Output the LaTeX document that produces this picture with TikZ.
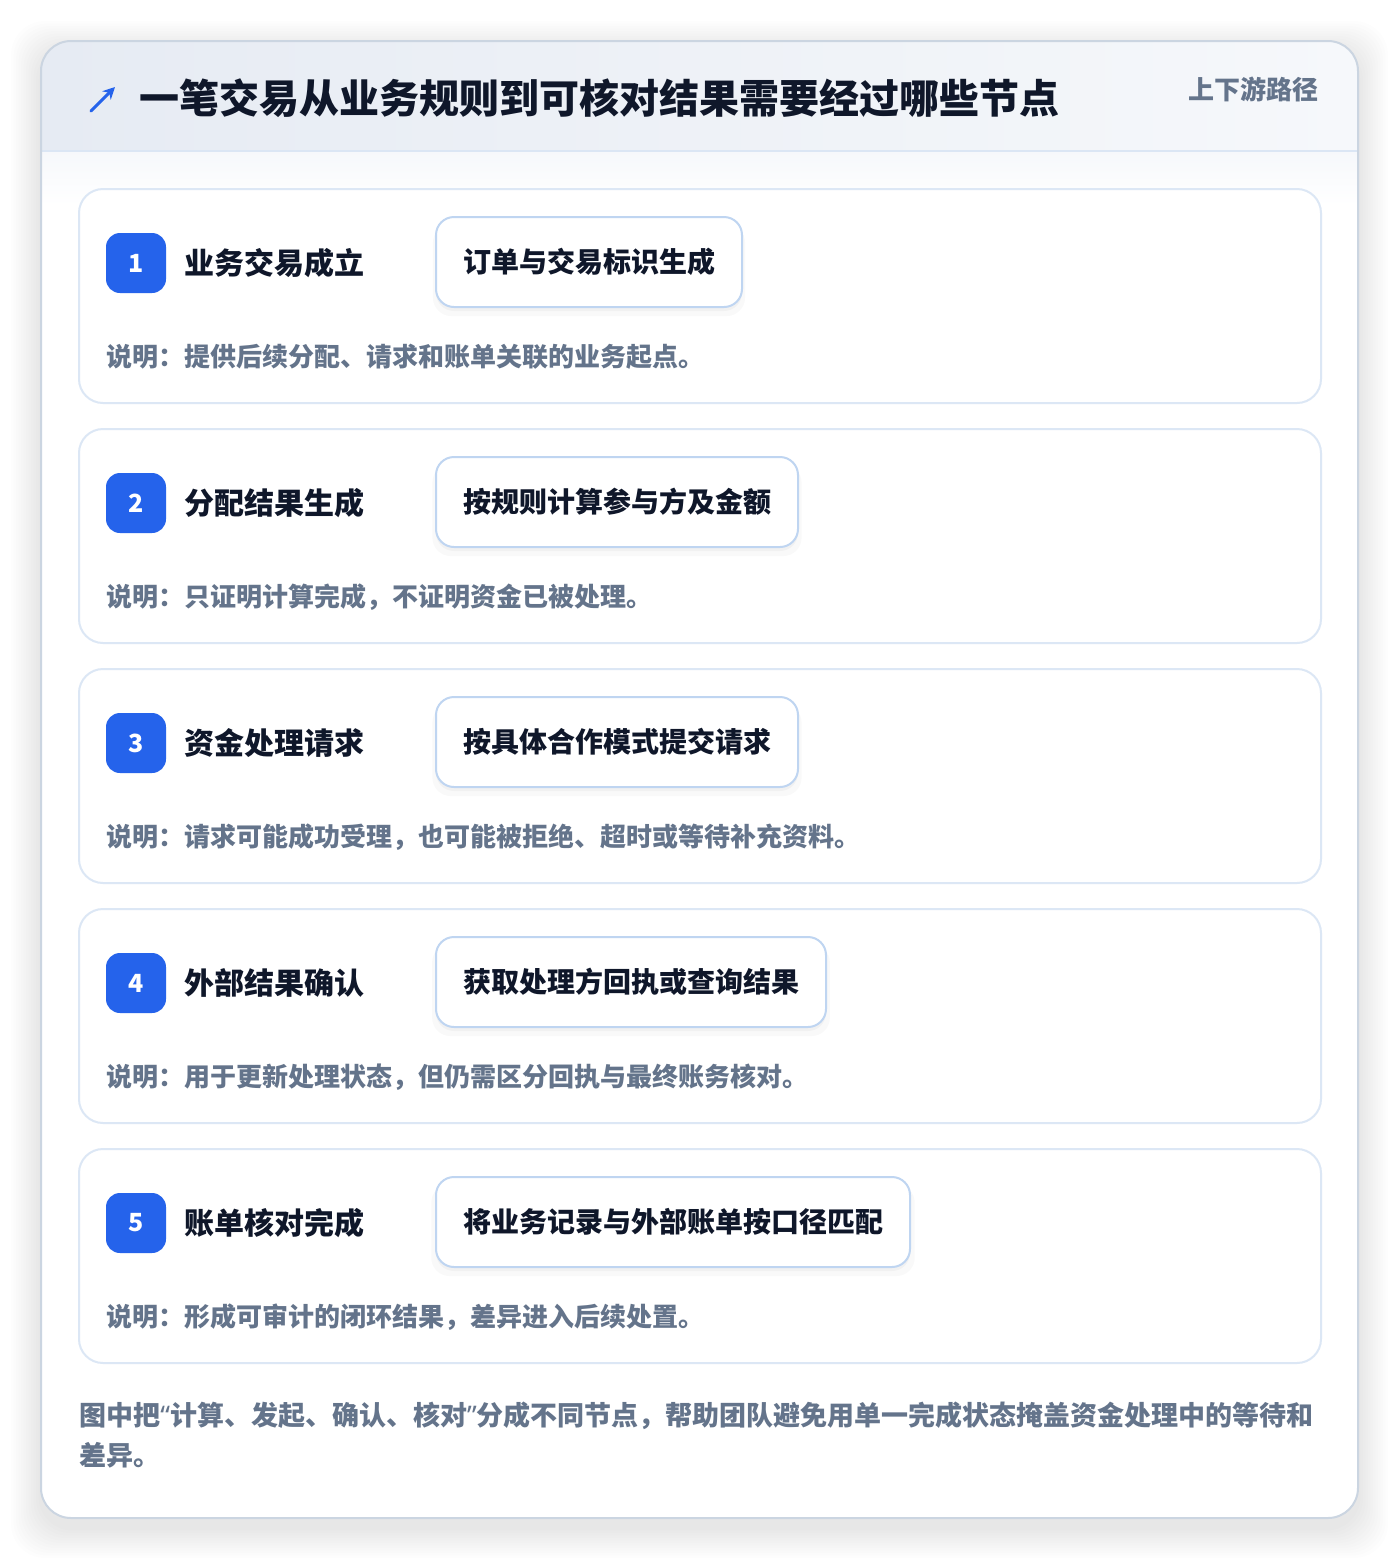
\documentclass[tikz,border=0pt]{standalone}
\usepackage{fontspec}
\setmainfont{Noto Sans CJK SC}
\newfontfamily\latinq{Noto Sans}
\usetikzlibrary{shadows,arrows.meta}
\definecolor{ink}{HTML}{0F172A}
\definecolor{muted}{HTML}{64748B}
\definecolor{accent}{HTML}{2563EB}
\definecolor{cardline}{HTML}{DCE7F5}
\definecolor{boxline}{HTML}{BFD5F1}
\definecolor{outerline}{HTML}{CBD5E1}
\definecolor{headL}{HTML}{E6EBF3}
\definecolor{headR}{HTML}{F6F8FB}
\definecolor{headline}{HTML}{DBE6F4}
\tikzset{
  card/.style={draw=cardline, line width=1pt, fill=white, rounded corners=12pt},
  badge/.style={fill=accent, rounded corners=7pt, minimum size=30pt, inner sep=0pt,
    text=white, font=\fontsize{12.5}{14}\selectfont\bfseries},
  steptitle/.style={inner sep=0pt, text=ink, font=\fontsize{15}{18}\selectfont\bfseries},
  stepbox/.style={draw=boxline, line width=1pt, fill=white, rounded corners=9pt,
    minimum height=45pt, inner xsep=13.5pt, inner ysep=0pt, text=ink,
    font=\fontsize{14}{17}\selectfont\bfseries,
    general shadow={shadow xshift=0pt, shadow yshift=-4pt, shadow scale=1.02, fill=black, opacity=0.025},
    general shadow={shadow xshift=0pt, shadow yshift=-2pt, fill=black, opacity=0.03}},
  desc/.style={inner sep=0pt, text=muted, font=\fontsize{13}{16}\selectfont\bfseries},
}
\begin{document}
\begin{tikzpicture}[x=0.5pt,y=-0.5pt]
\useasboundingbox (0,0) rectangle (1400,1560);
\fill[white] (0,0) rectangle (1400,1560);
% outer card soft shadow
\foreach \r in {1,...,12}{
  \fill[black, opacity=0.008, rounded corners=17pt]
    ({41-2.5*\r},{41-2.5*\r+10}) rectangle ({1358+2.5*\r},{1518+2.5*\r+10});
}
\fill[white, rounded corners=15pt] (41,41) rectangle (1358,1518);
\begin{scope}
  \clip[rounded corners=15pt] (41,41) rectangle (1358,1518);
  \fill[left color=headL, right color=headR] (41,41) rectangle (1358,151);
  \fill[top color=headR, bottom color=white] (41,151) rectangle (1358,205);
  \draw[headline, line width=1pt] (41,151) -- (1358,151);
\end{scope}
\draw[outerline, line width=1pt, rounded corners=15pt] (41,41) rectangle (1358,1518);
% header
\coordinate (arrowA) at (91,111);
\coordinate (arrowB) at (115,87);
\draw[accent, line width=1.5pt, line cap=round, -{Stealth[length=6pt,width=6pt]}] (arrowA) -- (arrowB);
\node[inner sep=0pt, anchor=west, text=ink, font=\fontsize{20}{24}\selectfont\bfseries] (title) at (139,98)
  {一笔交易从业务规则到可核对结果需要经过哪些节点};
\node[inner sep=0pt, anchor=east, text=muted, font=\fontsize{13}{16}\selectfont\bfseries] (tag) at (1319,89)
  {上下游路径};
% steps
\foreach \n/\t/\b/\d [count=\k from 0] in {
  1/业务交易成立/订单与交易标识生成/说明：提供后续分配、请求和账单关联的业务起点。,
  2/分配结果生成/按规则计算参与方及金额/说明：只证明计算完成，不证明资金已被处理。,
  3/资金处理请求/按具体合作模式提交请求/说明：请求可能成功受理，也可能被拒绝、超时或等待补充资料。,
  4/外部结果确认/获取处理方回执或查询结果/说明：用于更新处理状态，但仍需区分回执与最终账务核对。,
  5/账单核对完成/将业务记录与外部账单按口径匹配/说明：形成可审计的闭环结果，差异进入后续处置。}
{
  \pgfmathsetmacro\top{189+240*\k}
  \draw[card] (79,\top) rectangle (1321,\top+214);
  \node[badge] (badge\n) at (136,\top+74) {\n};
  \node[steptitle, anchor=west] (stitle\n) at (184,\top+74) {\t};
  \node[stepbox, anchor=west] (box\n) at (435,\top+73) {\b};
  \node[desc, anchor=west] (desc\n) at (106,\top+168) {\d};
}
% footer
\node[inner sep=0pt, anchor=west, align=left, text=muted,
  font=\fontsize{13.5}{20}\selectfont\bfseries] (footer) at (79,1435)
  {图中把{\latinq\bfseries “}计算、发起、确认、核对{\latinq\bfseries ”}分成不同节点，帮助团队避免用单一完成状态掩盖资金处理中的等待和\\差异。};
\end{tikzpicture}
\end{document}
